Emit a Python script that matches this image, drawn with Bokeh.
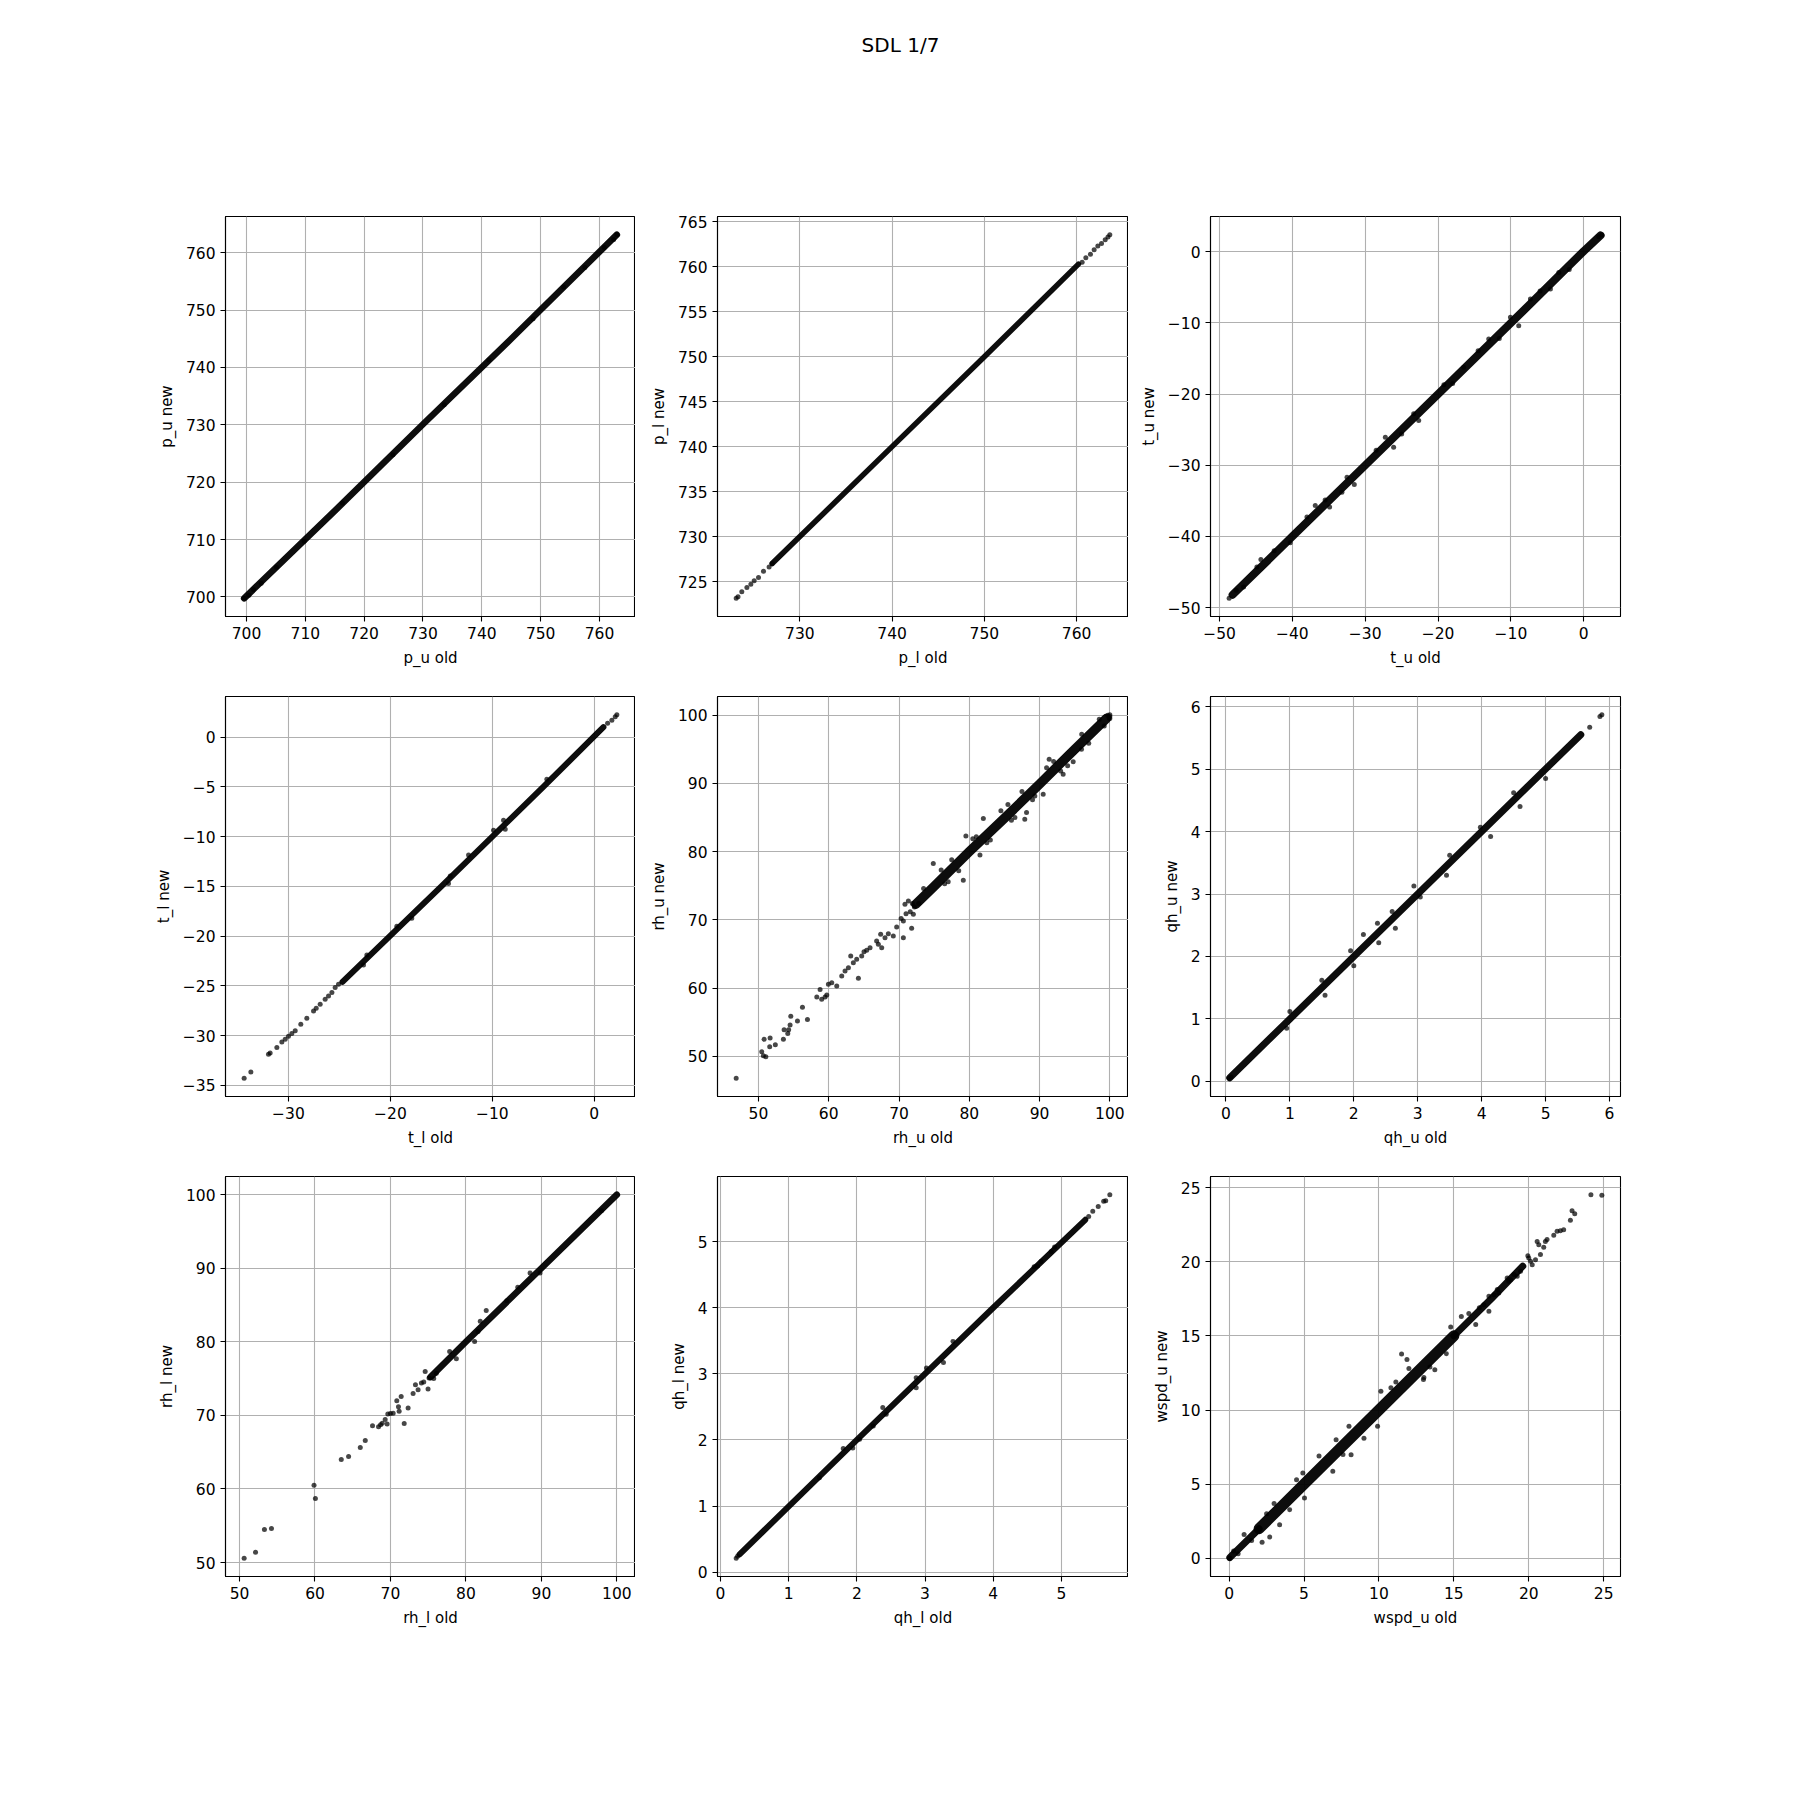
from bokeh.plotting import figure
from bokeh.models import Range1d, FixedTicker, Label
from bokeh.layouts import column, row
from bokeh.embed import file_html
from bokeh.resources import INLINE

TITLE = "SDL 1/7"

# ---------------- data ----------------
# p_u
p_u_old_core = [699.6, 715.0, 730.0, 745.0, 762.95]
p_u_new_core = [699.77, 715.0, 730.1, 745.0, 763.13]
p_u_old_pts = [699.6, 700.4, 701.2, 702.5, 705.1, 709.8, 716.3, 724.9, 733.6, 741.2, 748.7, 753.9, 757.5, 760.8, 762.4, 762.95]
p_u_new_pts = [699.77, 700.3, 701.3, 702.4, 705.2, 709.7, 716.4, 724.8, 733.5, 741.3, 748.5, 754.0, 757.4, 760.9, 762.3, 763.13]
p_u_ticks = [700, 710, 720, 730, 740, 750, 760]

# p_l
p_l_old_core = [727.0, 740.0, 750.0, 760.2]
p_l_new_core = [727.0, 740.0, 750.0, 760.3]
p_l_old_pts = [723.1, 723.3, 723.71, 724.26, 724.69, 725.05, 725.52, 726.06, 726.67, 727.0,
               760.6, 761.0, 761.5, 761.9, 762.3, 762.7, 763.1, 763.4, 763.6]
p_l_new_pts = [723.13, 723.3, 723.85, 724.33, 724.7, 725.07, 725.44, 726.14, 726.62, 727.0,
               760.5, 761.0, 761.4, 761.9, 762.3, 762.6, 763.0, 763.3, 763.57]
p_l_xticks = [730, 740, 750, 760]
p_l_yticks = [725, 730, 735, 740, 745, 750, 755, 760, 765]

# t_u
t_u_old_core = [-48.2, -40.0, -30.0, -20.0, -10.0, 0.0, 2.3]
t_u_new_core = [-48.2, -40.0, -30.0, -20.0, -10.0, 0.1, 2.3]
t_u_old_pts = [-48.68, -47.71, -46.7, -44.32, -44.87, -38.0, -36.86, -34.89, -32.5, -31.5, -27.24, -26.1,
               -23.35, -22.66, -16.48, -13.05, -10.07, -8.93, -7.33, -4.58, -3.43, 2.06, 2.48,
               -42.5, -40.3, -35.5, -33.2, -28.5, -25.0, -19.2, -18.0, -14.5, -11.6, -6.0, -2.0]
t_u_new_pts = [-48.7, -47.57, -47.1, -43.26, -44.29, -37.26, -35.64, -35.87, -31.67, -32.7, -26.05, -27.46,
               -22.78, -23.71, -16.23, -12.25, -9.21, -10.38, -6.64, -5.24, -2.9, 2.1, 2.4,
               -42.0, -40.9, -34.9, -33.8, -27.9, -25.6, -18.7, -18.5, -13.9, -12.2, -5.5, -2.5]
t_u_ticks = [-50, -40, -30, -20, -10, 0]

# t_l
t_l_old_core = [-24.7, -15.0, -5.0, 0.9]
t_l_new_core = [-24.6, -15.0, -5.0, 1.0]
t_l_old_pts = [-34.35, -33.69, -31.96, -31.8, -31.14, -30.65, -30.32, -30.0, -29.67, -29.34, -28.79, -28.2,
               -27.54, -27.28, -26.89, -26.4, -26.07, -25.74, -25.42, -25.09, 1.31, 1.73, 2.06, 2.22,
               -4.65, -8.9, -9.88, -8.73, -12.33, -14.13, -14.3, -17.9, -19.37, -22.31, -22.64]
t_l_new_pts = [-34.3, -33.66, -31.88, -31.75, -31.21, -30.64, -30.37, -30.07, -29.8, -29.53, -28.86, -28.26,
               -27.53, -27.26, -26.86, -26.35, -26.02, -25.68, -25.18, -24.85, 1.4, 1.71, 2.04, 2.26,
               -4.23, -8.35, -9.36, -9.26, -11.85, -13.95, -14.72, -18.2, -19.0, -21.9, -22.9]
t_l_xticks = [-30, -20, -10, 0]
t_l_yticks = [-35, -30, -25, -20, -15, -10, -5, 0]

# rh_u
rh_u_old_core = [72.4, 75.0, 80.0, 85.0, 90.0, 95.0, 99.5]
rh_u_new_core = [72.3, 74.9, 80.0, 84.9, 89.9, 95.0, 99.5]
rh_u_old_pts = [46.83, 50.47, 50.7, 51.05, 50.8, 51.66, 51.6, 52.4, 53.55, 53.65, 54.17, 54.3, 54.5, 54.6,
                55.55, 56.26, 56.97, 58.3, 58.77, 59.0, 59.48, 59.72, 59.95, 60.43, 61.14, 61.85, 62.32,
                62.8, 63.13, 63.5, 63.98, 64.22, 64.69, 65.02, 65.4, 65.88, 66.82, 67.06, 67.39, 67.54,
                68.01, 68.48, 69.19, 69.67, 70.62, 70.62, 71.8, 70.85, 71.33, 72.04, 74.88, 79.15, 79.52,
                81.52, 82.0, 87.9, 88.15, 89.33, 90.52, 91.37, 93.36, 94.79, 95.97,
                73.5, 76.5, 77.5, 78.5, 81.0, 83.0, 84.5, 86.0, 87.5, 89.0, 92.0, 93.0, 96.0, 97.0,
                98.5, 99.2, 100.0, 99.9, 100.0, 99.7, 100.0, 76.0, 77.0, 80.5, 82.5, 85.5, 86.5, 91.0, 94.0,
                71.0, 71.6, 72.2, 70.3, 71.9, 72.8]
rh_u_new_pts = [46.79, 50.68, 50.1, 49.95, 52.5, 52.7, 51.4, 51.7, 52.5, 53.9, 53.37, 53.9, 54.6, 55.9,
                55.2, 57.2, 55.4, 58.7, 59.82, 58.36, 58.7, 58.99, 60.56, 60.8, 60.31, 61.78, 62.51,
                63.0, 64.71, 63.73, 64.22, 61.44, 64.71, 65.35, 65.54, 65.93, 66.91, 66.42, 67.89, 65.93,
                67.4, 67.99, 67.64, 68.96, 69.84, 67.4, 68.77, 72.29, 72.78, 70.82, 78.25, 75.81, 82.31,
                79.52, 84.85, 84.75, 85.73, 88.17, 88.42, 93.55, 91.35, 93.16, 95.0,
                74.6, 75.3, 78.8, 77.2, 82.2, 81.7, 86.0, 84.6, 88.8, 87.6, 93.2, 91.8, 97.2, 95.9,
                99.4, 98.4, 100.07, 99.6, 99.8, 100.0, 99.5, 77.3, 75.6, 81.9, 81.3, 86.9, 85.0, 92.3, 92.6,
                70.9, 71.2, 71.9, 70.2, 72.4, 72.4]
rh_ticks = [50, 60, 70, 80, 90, 100]

# qh_u
qh_u_old_core = [0.06, 1.0, 2.0, 3.0, 4.0, 5.0, 5.55]
qh_u_new_core = [0.06, 1.0, 2.0, 3.0, 4.0, 5.0, 5.55]
qh_u_old_pts = [0.05, 0.08, 5.69, 5.85, 5.88, 2.94, 3.04, 4.14, 3.98, 2.39, 2.37, 2.15, 1.95, 2.0, 1.5,
                1.55, 4.5, 4.6, 5.0, 3.5, 3.45, 1.0, 0.95, 2.6, 2.65]
qh_u_new_pts = [0.05, 0.07, 5.67, 5.84, 5.87, 3.13, 2.95, 3.92, 4.07, 2.22, 2.53, 2.35, 2.09, 1.85, 1.62,
                1.38, 4.62, 4.4, 4.85, 3.62, 3.3, 1.12, 0.85, 2.72, 2.45]
qh_u_ticks = [0, 1, 2, 3, 4, 5, 6]

# rh_l
rh_l_old_core = [75.3, 80.0, 90.0, 100.0]
rh_l_new_core = [75.2, 80.0, 90.0, 100.0]
rh_l_old_pts = [50.61, 52.12, 53.3, 54.23, 59.87, 60.05, 63.48, 64.45, 66.0, 66.66, 67.62, 68.42, 68.69,
                68.91, 69.3, 69.56, 69.65, 70.0, 70.36, 70.84, 71.06, 71.15, 71.42, 71.82, 72.34, 73.0,
                73.31, 73.66, 74.1, 74.41, 74.6, 74.98, 75.11, 75.73, 76.08, 77.84, 78.73, 81.15, 82.69,
                88.5, 89.82, 97.95, 86.87, 85.42, 81.9, 81.6]
rh_l_new_pts = [50.57, 51.4, 54.48, 54.61, 60.5, 58.69, 63.99, 64.4, 65.62, 66.57, 68.6, 68.47, 68.74,
                68.92, 69.43, 68.84, 70.2, 70.25, 70.3, 71.99, 71.19, 70.55, 72.56, 68.89, 71.0, 72.96,
                74.18, 73.5, 74.41, 74.55, 75.95, 73.6, 75.09, 75.0, 75.72, 78.7, 77.7, 80.05, 84.27,
                89.35, 89.35, 97.8, 87.4, 85.58, 82.8, 81.4]

# qh_l
qh_l_old_core = [0.28, 2.0, 4.0, 5.35]
qh_l_new_core = [0.27, 2.0, 4.0, 5.33]
qh_l_old_pts = [0.23, 0.25, 5.40, 5.46, 5.54, 5.62, 5.65, 5.71, 3.41, 3.27, 2.87, 2.87, 2.38, 2.43, 2.24,
                1.80, 1.94, 2.04, 1.45, 3.02, 4.6, 4.65, 4.85, 4.9, 4.7]
qh_l_new_pts = [0.21, 0.24, 5.38, 5.46, 5.53, 5.61, 5.62, 5.71, 3.49, 3.17, 2.79, 2.94, 2.49, 2.39, 2.21,
                1.87, 1.88, 2.01, 1.43, 3.09, 4.62, 4.63, 4.85, 4.92, 4.7]
qh_l_ticks = [0, 1, 2, 3, 4, 5]

# wspd_u
wspd_u_old_core = [0.05, 2.0]
wspd_u_new_core = [0.05, 2.0]
wspd_u_old_core2 = [2.0, 5.0, 10.0, 15.0]
wspd_u_new_core2 = [2.0, 5.0, 10.0, 15.0]
wspd_u_old_core3 = [15.0, 17.5, 19.6]
wspd_u_new_core3 = [15.0, 17.5, 19.7]
wspd_u_old_pts = [0.0, 0.05, 2.2, 2.71, 3.37, 4.04, 5.03, 4.92, 6.92, 7.14, 8.14, 9.91, 10.13, 11.13, 11.51,
                  11.87, 12.97, 13.73, 14.79, 16.46, 17.34, 16.0, 16.7, 17.0, 17.34, 17.68, 17.9, 18.0,
                  18.56, 18.67, 18.78, 19.01, 19.23, 19.45, 19.94, 20.0, 20.12, 20.23, 20.45, 20.78, 20.56,
                  20.67, 21.0, 21.11, 21.22, 21.67, 21.89, 22.11, 22.33, 22.78, 22.89, 23.07, 24.15, 24.88,
                  1.0, 3.0, 6.0, 8.0, 9.0, 12.0, 13.0, 14.5, 15.5, 0.3, 0.6, 1.5, 2.5, 4.5, 7.6, 10.8, 13.4]
wspd_u_new_pts = [0.0, 0.02, 1.08, 1.44, 2.27, 3.28, 4.07, 5.75, 5.87, 8.0, 6.99, 8.9, 11.26, 11.89, 13.78,
                  13.4, 12.05, 12.72, 15.6, 15.76, 16.66, 16.5, 16.9, 17.1, 17.67, 17.78, 18.12, 17.89,
                  18.9, 18.68, 18.79, 19.13, 19.02, 19.35, 20.41, 20.25, 20.03, 19.8, 20.14, 20.48, 21.37,
                  21.15, 20.97, 21.37, 21.49, 21.78, 22.05, 22.09, 22.16, 22.79, 23.44, 23.24, 24.52, 24.48,
                  1.6, 3.7, 6.9, 8.9, 8.1, 12.8, 12.2, 13.8, 16.3, 0.5, 0.3, 1.2, 3.0, 5.3, 7.0, 11.5, 12.9]
wspd_ticks = [0, 5, 10, 15, 20, 25]

PANELS = [
    dict(xl="p_u old", yl="p_u new", core=[(p_u_old_core, p_u_new_core, 6.5)],
         pts=(p_u_old_pts, p_u_new_pts), xt=p_u_ticks, yt=p_u_ticks),
    dict(xl="p_l old", yl="p_l new", core=[(p_l_old_core, p_l_new_core, 5.5)],
         pts=(p_l_old_pts, p_l_new_pts), xt=p_l_xticks, yt=p_l_yticks),
    dict(xl="t_u old", yl="t_u new", core=[(t_u_old_core, t_u_new_core, 8)],
         pts=(t_u_old_pts, t_u_new_pts), xt=t_u_ticks, yt=t_u_ticks),
    dict(xl="t_l old", yl="t_l new", core=[(t_l_old_core, t_l_new_core, 6)],
         pts=(t_l_old_pts, t_l_new_pts), xt=t_l_xticks, yt=t_l_yticks),
    dict(xl="rh_u old", yl="rh_u new", core=[(rh_u_old_core, rh_u_new_core, 9.5)],
         pts=(rh_u_old_pts, rh_u_new_pts), xt=rh_ticks, yt=rh_ticks),
    dict(xl="qh_u old", yl="qh_u new", core=[(qh_u_old_core, qh_u_new_core, 7)],
         pts=(qh_u_old_pts, qh_u_new_pts), xt=qh_u_ticks, yt=qh_u_ticks),
    dict(xl="rh_l old", yl="rh_l new", core=[(rh_l_old_core, rh_l_new_core, 6.5)],
         pts=(rh_l_old_pts, rh_l_new_pts), xt=rh_ticks, yt=rh_ticks),
    dict(xl="qh_l old", yl="qh_l new", core=[(qh_l_old_core, qh_l_new_core, 6)],
         pts=(qh_l_old_pts, qh_l_new_pts), xt=qh_l_ticks, yt=qh_l_ticks),
    dict(xl="wspd_u old", yl="wspd_u new",
         core=[(wspd_u_old_core, wspd_u_new_core, 7), (wspd_u_old_core2, wspd_u_new_core2, 11),
               (wspd_u_old_core3, wspd_u_new_core3, 7)],
         pts=(wspd_u_old_pts, wspd_u_new_pts), xt=wspd_ticks, yt=wspd_ticks),
]

FONT = "DejaVu Sans"
COL_LEFT = [225, 82, 82]
COL_RIGHT = [0, 0, 180]
FRAME_W = [410, 411, 410]
ROW_TOP = [16, 16, 16]
ROW_BOTTOM = [64, 64, 224]
HEADER_H = 200


def padded(vals):
    lo, hi = min(vals), max(vals)
    m = 0.05 * (hi - lo)
    return Range1d(lo - m, hi + m)


def fmt(t):
    return str(t).replace("-", "\u2212")


def make_panel(cfg, r, c):
    xs = list(cfg["pts"][0])
    ys = list(cfg["pts"][1])
    for cx, cy, _ in cfg["core"]:
        xs += cx
        ys += cy
    p = figure(frame_width=FRAME_W[c], frame_height=400,
               x_range=padded(xs), y_range=padded(ys),
               min_border_left=COL_LEFT[c], min_border_right=COL_RIGHT[c],
               min_border_top=ROW_TOP[r], min_border_bottom=ROW_BOTTOM[r],
               toolbar_location=None, output_backend="svg")
    p.outline_line_color = "black"
    p.outline_line_width = 1.1
    p.background_fill_color = "white"
    p.border_fill_color = "white"

    p.xaxis.ticker = FixedTicker(ticks=cfg["xt"])
    p.yaxis.ticker = FixedTicker(ticks=cfg["yt"])
    p.xgrid.ticker = FixedTicker(ticks=cfg["xt"])
    p.ygrid.ticker = FixedTicker(ticks=cfg["yt"])
    p.xaxis.major_label_overrides = {t: fmt(t) for t in cfg["xt"]}
    p.yaxis.major_label_overrides = {t: fmt(t) for t in cfg["yt"]}
    p.xaxis.axis_label = cfg["xl"]
    p.yaxis.axis_label = cfg["yl"]
    for ax in (p.xaxis, p.yaxis):
        ax.axis_line_color = "black"
        ax.axis_line_width = 1.1
        ax.major_tick_in = 0
        ax.major_tick_out = 5
        ax.major_tick_line_width = 1.1
        ax.major_tick_line_color = "black"
        ax.minor_tick_line_color = None
        ax.major_label_text_font = FONT
        ax.major_label_text_font_size = "15.5px"
        ax.major_label_text_color = "black"
        ax.major_label_standoff = 5
        ax.axis_label_text_font = FONT
        ax.axis_label_text_font_size = "15px"
        ax.axis_label_text_font_style = "normal"
        ax.axis_label_text_color = "black"
        ax.axis_label_standoff = 7
    p.grid.grid_line_color = "#b0b0b0"
    p.grid.grid_line_width = 1.1

    for cx, cy, w in cfg["core"]:
        p.line(cx, cy, line_color="black", line_width=w, line_alpha=0.95,
               line_cap="round", line_join="round")
    p.scatter(cfg["pts"][0], cfg["pts"][1], size=5, fill_color="black",
              fill_alpha=0.72, line_color=None)
    return p


header = figure(width=1800, height=HEADER_H, min_border=0,
                x_range=Range1d(0, 1), y_range=Range1d(0, 1),
                x_axis_location=None, y_axis_location=None,
                toolbar_location=None, output_backend="svg")
header.outline_line_color = None
header.grid.visible = False
header.add_layout(Label(x=0.5, y=(HEADER_H - 44) / HEADER_H, text=TITLE, text_align="center",
                        text_baseline="middle", text_font=FONT, text_font_size="20px",
                        text_color="black"))

rows = []
for r in range(3):
    rows.append(row(*[make_panel(PANELS[r * 3 + c], r, c) for c in range(3)]))

layout = column(header, *rows)
open("out.html", "w").write(file_html(layout, INLINE))
